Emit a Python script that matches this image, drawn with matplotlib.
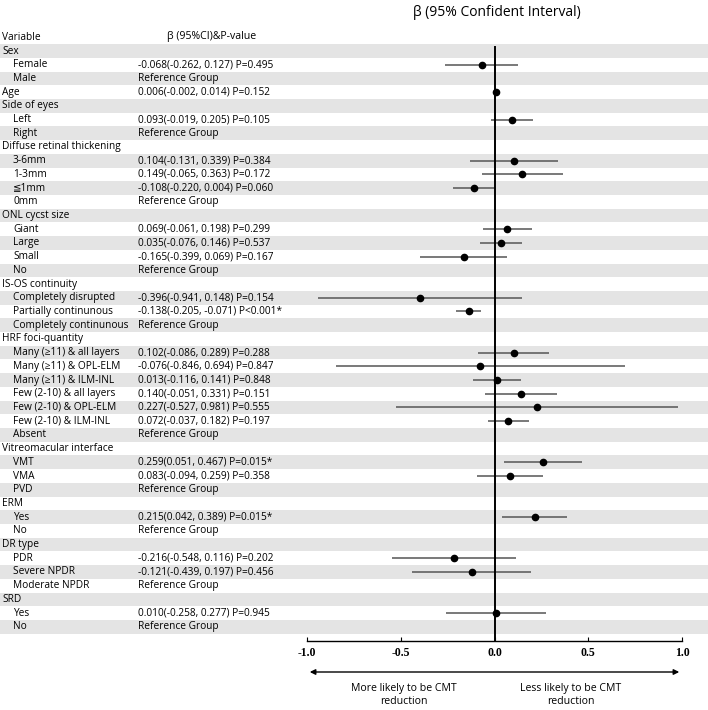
import numpy as np
import matplotlib
matplotlib.use("Agg")
import matplotlib.pyplot as plt
import matplotlib.transforms as mtransforms

# rows of the table
labels = [
    "Sex", "Female", "Male", "Age", "Side of eyes", "Left", "Right",
    "Diffuse retinal thickening", "3-6mm", "1-3mm", "≦1mm", "0mm",
    "ONL cycst size", "Giant", "Large", "Small", "No",
    "IS-OS continuity", "Completely disrupted", "Partially continunous", "Completely continunous",
    "HRF foci-quantity", "Many (≥11) & all layers", "Many (≥11) & OPL-ELM", "Many (≥11) & ILM-INL",
    "Few (2-10) & all layers", "Few (2-10) & OPL-ELM", "Few (2-10) & ILM-INL", "Absent",
    "Vitreomacular interface", "VMT", "VMA", "PVD",
    "ERM", "Yes", "No",
    "DR type", "PDR", "Severe NPDR", "Moderate NPDR",
    "SRD", "Yes", "No",
]
is_group = [
    1, 0, 0, 1, 1, 0, 0,
    1, 0, 0, 0, 0,
    1, 0, 0, 0, 0,
    1, 0, 0, 0,
    1, 0, 0, 0, 0, 0, 0, 0,
    1, 0, 0, 0,
    1, 0, 0,
    1, 0, 0, 0,
    1, 0, 0,
]
nan = np.nan
beta = [nan, -0.068, nan, 0.006, nan, 0.093, nan,
        nan, 0.104, 0.149, -0.108, nan,
        nan, 0.069, 0.035, -0.165, nan,
        nan, -0.396, -0.138, nan,
        nan, 0.102, -0.076, 0.013, 0.140, 0.227, 0.072, nan,
        nan, 0.259, 0.083, nan,
        nan, 0.215, nan,
        nan, -0.216, -0.121, nan,
        nan, 0.010, nan]
ci_low = [nan, -0.262, nan, -0.002, nan, -0.019, nan,
          nan, -0.131, -0.065, -0.220, nan,
          nan, -0.061, -0.076, -0.399, nan,
          nan, -0.941, -0.205, nan,
          nan, -0.086, -0.846, -0.116, -0.051, -0.527, -0.037, nan,
          nan, 0.051, -0.094, nan,
          nan, 0.042, nan,
          nan, -0.548, -0.439, nan,
          nan, -0.258, nan]
ci_high = [nan, 0.127, nan, 0.014, nan, 0.205, nan,
           nan, 0.339, 0.363, 0.004, nan,
           nan, 0.198, 0.146, 0.069, nan,
           nan, 0.148, -0.071, nan,
           nan, 0.289, 0.694, 0.141, 0.331, 0.981, 0.182, nan,
           nan, 0.467, 0.259, nan,
           nan, 0.389, nan,
           nan, 0.116, 0.197, nan,
           nan, 0.277, nan]
value_text = ["", "-0.068(-0.262, 0.127) P=0.495", "Reference Group", "0.006(-0.002, 0.014) P=0.152",
              "", "0.093(-0.019, 0.205) P=0.105", "Reference Group",
              "", "0.104(-0.131, 0.339) P=0.384", "0.149(-0.065, 0.363) P=0.172",
              "-0.108(-0.220, 0.004) P=0.060", "Reference Group",
              "", "0.069(-0.061, 0.198) P=0.299", "0.035(-0.076, 0.146) P=0.537",
              "-0.165(-0.399, 0.069) P=0.167", "Reference Group",
              "", "-0.396(-0.941, 0.148) P=0.154", "-0.138(-0.205, -0.071) P<0.001*", "Reference Group",
              "", "0.102(-0.086, 0.289) P=0.288", "-0.076(-0.846, 0.694) P=0.847",
              "0.013(-0.116, 0.141) P=0.848", "0.140(-0.051, 0.331) P=0.151",
              "0.227(-0.527, 0.981) P=0.555", "0.072(-0.037, 0.182) P=0.197", "Reference Group",
              "", "0.259(0.051, 0.467) P=0.015*", "0.083(-0.094, 0.259) P=0.358", "Reference Group",
              "", "0.215(0.042, 0.389) P=0.015*", "Reference Group",
              "", "-0.216(-0.548, 0.116) P=0.202", "-0.121(-0.439, 0.197) P=0.456", "Reference Group",
              "", "0.010(-0.258, 0.277) P=0.945", "Reference Group"]
xticks = [-1.0, -0.5, 0.0, 0.5, 1.0]

plt.rcParams['font.family'] = ['Open Sans', 'DejaVu Sans']
W, H = 708, 710
fig = plt.figure(figsize=(W / 100, H / 100), dpi=100)
fs = 7.3

# forest axes placed in pixel terms
x0, x1 = 307, 682
ytop, ybot = 44, 641
ax = fig.add_axes([x0 / W, 1 - ybot / H, (x1 - x0) / W, (ybot - ytop) / H])
n = len(labels)
row_h = 13.71
ax.set_xlim(-1, 1)
ax.set_ylim((ybot - 51) / row_h, (ytop - 51) / row_h)

trans = mtransforms.blended_transform_factory(fig.transFigure, ax.transData)
for i in range(n):
    if i % 2 == 0:
        ax.add_patch(plt.Rectangle((0, i - 0.5), 1, 1, transform=trans,
                                   color="#e4e4e4", lw=0, clip_on=False, zorder=0))
    x = 2 if is_group[i] else 13
    ax.text(x / W, i, labels[i], transform=trans, fontsize=fs, va="center", ha="left")
    if value_text[i]:
        ax.text(138 / W, i, value_text[i], transform=trans, fontsize=fs, va="center", ha="left")

y = np.arange(n)
b = np.array(beta)
lo = np.array(ci_low)
hi = np.array(ci_high)
ax.hlines(y, lo, hi, color="#555555", lw=1.1, zorder=2)
ax.plot(b, y, "o", color="black", ms=4.5, zorder=3)
ax.plot([0, 0], [-0.3, (ybot - 51) / row_h], color="black", lw=1.4, zorder=2)

for s in ["top", "right", "left"]:
    ax.spines[s].set_visible(False)
ax.spines["bottom"].set_linewidth(1.0)
ax.set_yticks([])
ax.set_xticks(xticks)
ax.set_xticklabels(["%.1f" % t for t in xticks], fontfamily="Liberation Serif",
                   fontweight="bold", fontsize=8.5)
ax.tick_params(axis="x", direction="in", length=3, pad=4)

# headers
fig.text(2 / W, 1 - 37 / H, "Variable", fontsize=fs, va="center", ha="left")
fig.text(212 / W, 1 - 37 / H, "β (95%CI)&P-value", fontsize=fs + 0.3, va="center", ha="center")
fig.text(497 / W, 1 - 12 / H, "β (95% Confident Interval)", fontsize=10, va="center", ha="center")

# direction arrow and notes
tarr = mtransforms.blended_transform_factory(ax.transData, fig.transFigure)
ax.annotate("", xy=(1.0, 1 - 672 / H), xytext=(-1.0, 1 - 672 / H), xycoords=tarr, textcoords=tarr,
            arrowprops=dict(arrowstyle="<|-|>", color="black", lw=1.0, mutation_scale=8),
            annotation_clip=False)
ax.text(-0.485, 1 - 695 / H, "More likely to be CMT\nreduction", transform=tarr,
        fontsize=7.6, ha="center", va="center", linespacing=1.2)
ax.text(0.405, 1 - 695 / H, "Less likely to be CMT\nreduction", transform=tarr,
        fontsize=7.6, ha="center", va="center", linespacing=1.2)

fig.savefig("out.png", dpi=100)
